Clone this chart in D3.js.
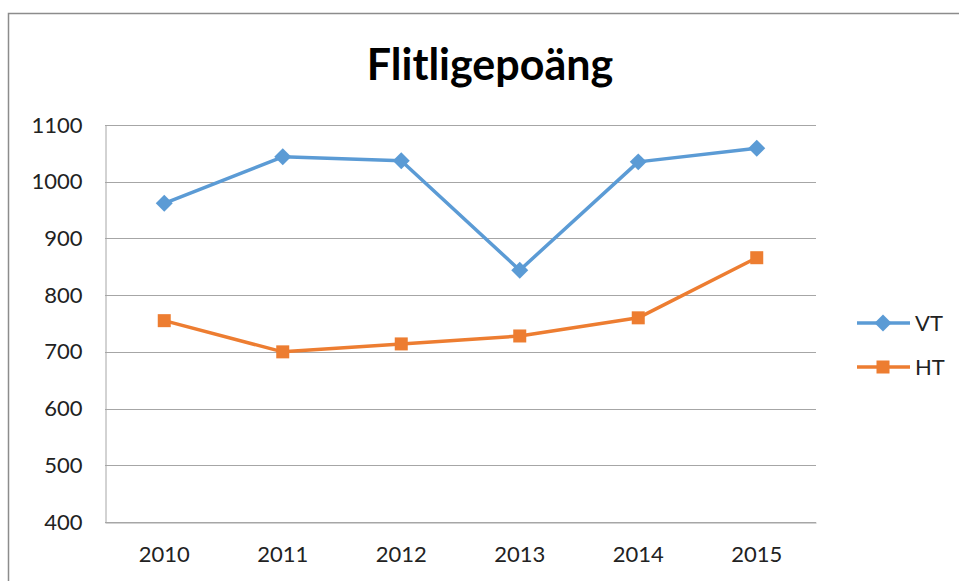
<!DOCTYPE html>
<html><head><meta charset="utf-8">
<script src="https://cdn.jsdelivr.net/npm/d3@7"></script>
<style>body{margin:0;background:#fff;} svg{display:block;}</style>
</head><body>
<script>
const categories = ["2010","2011","2012","2013","2014","2015"];
const seriesNames = ["VT","HT"];
const vtValues = [962, 1044, 1037, 844, 1035, 1059];
const htValues = [755, 700, 714, 728, 760, 866];
const yTicks = [400,500,600,700,800,900,1000,1100];
const title = "Flitligepoäng";

const W = 959, H = 581;
const font = "Lato, 'Open Sans', sans-serif";
const svg = d3.select("body").append("svg").attr("width", W).attr("height", H);

// outer chart border
svg.append("path").attr("d", `M8.5,${H} L8.5,13.5 L${W},13.5`).attr("fill","none").attr("stroke","#8c8c8c").attr("stroke-width",1.5);

const m = {l:105, t:125, r:816, b:522};
const x = d3.scaleBand().domain(categories).range([m.l, m.r]);
const y = d3.scaleLinear().domain([400,1100]).range([m.b, m.t]);

// gridlines
svg.append("g").selectAll("line").data(yTicks).join("line")
  .attr("x1", m.l).attr("x2", m.r)
  .attr("y1", d=>Math.round(y(d))+0.5).attr("y2", d=>Math.round(y(d))+0.5)
  .attr("stroke","#a6a6a6").attr("stroke-width",1);

// y axis
const ya = svg.append("g").attr("transform",`translate(${m.l+0.5},0)`)
  .call(d3.axisLeft(y).tickValues(yTicks).tickSize(0).tickPadding(23).tickFormat(d3.format("d")));
ya.select(".domain").attr("stroke","#a6a6a6");
ya.selectAll("text").attr("font-family",font).attr("font-size",22).attr("fill","#222");

// x axis
const xa = svg.append("g").attr("transform",`translate(0,${Math.round(y(400))+0.5})`)
  .call(d3.axisBottom(x).tickSize(0).tickPadding(24));
xa.select(".domain").attr("stroke","#a6a6a6");
xa.selectAll("text").attr("font-family",font).attr("font-size",22).attr("fill","#222");

// title
svg.append("text").attr("x",490).attr("y",80).attr("text-anchor","middle")
  .attr("font-family",font).attr("font-weight","bold").attr("font-size",43).attr("fill","#000").text(title);

const colors = {VT:"#5b9bd5", HT:"#ed7d31"};
const cx = (i)=>x(categories[i])+x.bandwidth()/2;
const line = d3.line().x((d,i)=>cx(i)).y(d=>y(d));

function marker(g, name, px, py){
  if (name === "VT") {
    g.append("rect").attr("x",-6).attr("y",-6).attr("width",12).attr("height",12)
      .attr("transform",`translate(${px},${py}) rotate(45)`).attr("fill",colors[name]);
  } else {
    g.append("rect").attr("x",px-6.5).attr("y",py-6.5).attr("width",13).attr("height",13).attr("fill",colors[name]);
  }
}

function drawSeries(vals, name){
  svg.append("path").datum(vals).attr("d", line).attr("fill","none")
    .attr("stroke", colors[name]).attr("stroke-width",3.5).attr("stroke-linejoin","round");
  const g = svg.append("g");
  vals.forEach((d,i)=>marker(g, name, cx(i), y(d)));
}
drawSeries(vtValues,"VT");
drawSeries(htValues,"HT");

// legend
const legY = [323, 367];
seriesNames.forEach((n,i)=>{
  const yy = legY[i];
  const g = svg.append("g");
  g.append("line").attr("x1",857).attr("x2",910).attr("y1",yy).attr("y2",yy)
    .attr("stroke",colors[n]).attr("stroke-width",3.5);
  marker(g, n, 883, yy);
  g.append("text").attr("x",915).attr("y",yy).attr("dy","0.36em")
    .attr("font-family",font).attr("font-size",22).attr("fill","#222").text(n);
});
</script>
</body></html>
